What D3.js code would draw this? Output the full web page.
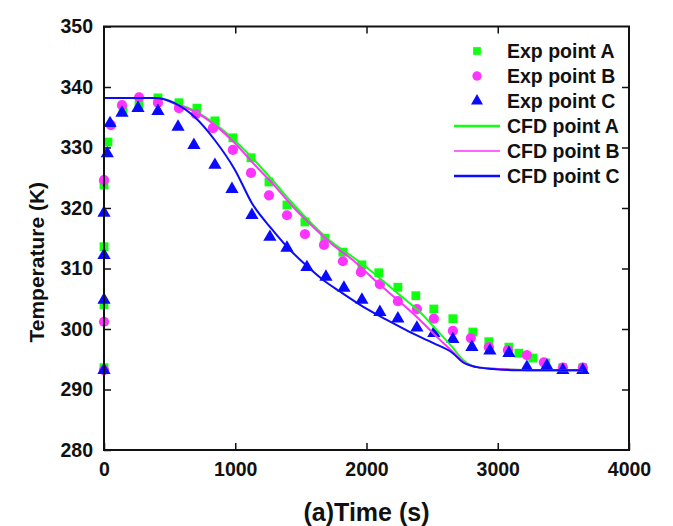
<!DOCTYPE html>
<html>
<head>
<meta charset="utf-8">
<script src="https://cdn.jsdelivr.net/npm/d3@7"></script>
<style>
  body { margin: 0; background: #fff; }
  text { font-family: "Liberation Sans", Arial, sans-serif; font-weight: bold; fill: #111; }
</style>
</head>
<body>
<div id="main"></div>
<script>
// experimental points [time (s), temperature (K)]
var expA = [[0,293.6],[0,304.0],[0,313.6],[0,323.8],[30,330.9],[145,336.2],[267,337.0],[411,338.2],[571,337.4],[708,336.5],[845,334.4],[982,331.6],[1120,328.3],[1257,324.3],[1394,320.5],[1531,317.7],[1683,315.0],[1820,312.7],[1965,310.6],[2094,309.3],[2239,306.9],[2376,305.5],[2513,303.3],[2658,301.7],[2810,299.5],[2932,297.9],[3085,297.0],[3161,296.0],[3267,295.2],[3366,294.4],[3496,293.6],[3648,293.6]];
var expB = [[0,293.2],[0,301.2],[0,324.6],[53,333.7],[137,337.0],[267,338.3],[411,337.4],[571,336.5],[701,335.5],[830,333.2],[982,329.6],[1120,325.8],[1257,322.1],[1394,318.8],[1531,315.7],[1676,313.9],[1820,311.2],[1957,309.4],[2102,307.4],[2239,304.6],[2384,303.3],[2513,301.7],[2658,299.7],[2795,298.5],[2932,297.0],[3077,296.5],[3222,295.7],[3351,294.5],[3496,293.6],[3648,293.6]];
var expC = [[0,293.2],[0,304.8],[0,312.2],[0,319.2],[25,329.0],[46,334.0],[137,335.7],[259,336.5],[411,336.0],[564,333.4],[685,330.4],[845,327.1],[975,323.1],[1127,318.8],[1264,315.2],[1394,313.4],[1546,310.2],[1691,308.6],[1828,306.8],[1965,304.8],[2102,302.8],[2239,301.7],[2384,300.2],[2513,299.3],[2658,298.3],[2803,297.0],[2940,296.4],[3085,296.0],[3222,293.7],[3374,293.9],[3496,293.2],[3648,293.2]];

// CFD curves
var cfdA = [[0,293.2],[0,338.2],[200,338.2],[411,338.2],[564,337.2],[693,336.0],[845,333.9],[998,331.1],[1150,327.8],[1287,324.5],[1439,320.7],[1592,317.2],[1744,314.2],[1896,311.9],[2102,308.4],[2254,305.6],[2407,302.8],[2536,299.8],[2658,296.9],[2734,294.9],[2841,293.7],[3016,293.4],[3267,293.2],[3648,293.2]];
var cfdB = [[0,293.2],[0,338.2],[200,338.2],[411,338.2],[564,337.0],[693,335.9],[845,333.7],[998,330.7],[1150,327.1],[1287,324.0],[1439,320.2],[1592,316.9],[1744,313.9],[1896,311.4],[2102,307.3],[2254,304.5],[2407,301.5],[2536,298.7],[2658,296.2],[2734,294.6],[2841,293.7],[3016,293.4],[3267,293.2],[3648,293.2]];
var cfdC = [[0,293.2],[0,338.2],[200,338.2],[388,338.2],[541,337.3],[693,335.0],[845,331.2],[998,326.3],[1127,320.8],[1279,316.5],[1394,313.6],[1546,310.4],[1670,308.1],[1797,306.2],[1973,303.7],[2155,301.5],[2331,299.5],[2506,297.7],[2658,296.0],[2734,294.5],[2841,293.7],[2963,293.4],[3146,293.2],[3648,293.2]];

var xTicks = [0, 1000, 2000, 3000, 4000];
var yTicks = [280, 290, 300, 310, 320, 330, 340, 350];
var legendLabels = ["Exp point A", "Exp point B", "Exp point C", "CFD point A", "CFD point B", "CFD point C"];

var width = 673;
var height = 526;
var plotL = 104, plotR = 629, plotT = 26.5, plotB = 450;

var green = "#11ff11", magenta = "#ff33ff", blue = "#0a0aff";

var svg = d3.select('#main')
  .append('svg')
  .attr('width', width)
  .attr('height', height);

var x = d3.scaleLinear().domain([0, 4000]).range([plotL, plotR]);
var y = d3.scaleLinear().domain([280, 350]).range([plotB, plotT]);

// axes, ticks pointing inward
var gx = svg.append('g')
  .attr('transform', 'translate(0,' + plotB + ')')
  .call(d3.axisBottom(x).tickValues(xTicks).tickSize(-7).tickPadding(12).tickFormat(d3.format('d')));
var gy = svg.append('g')
  .attr('transform', 'translate(' + plotL + ',0)')
  .call(d3.axisLeft(y).tickValues(yTicks).tickSize(-7).tickPadding(11).tickFormat(d3.format('d')));
var gt = svg.append('g')
  .attr('transform', 'translate(0,' + plotT + ')')
  .call(d3.axisTop(x).tickValues([1000, 2000, 3000]).tickSize(-7).tickFormat(''));
var gr = svg.append('g')
  .attr('transform', 'translate(' + plotR + ',0)')
  .call(d3.axisRight(y).tickValues(yTicks.slice(1, -1)).tickSize(-7).tickFormat(''));

[gx, gy, gt, gr].forEach(function(g) {
  g.select('.domain').remove();
  g.selectAll('line').attr('stroke', '#111').attr('stroke-width', 1.5);
  g.selectAll('text').style('font-size', '19.5px').attr('fill', '#111');
});

// CFD lines: vertical rise at t=0, then smooth decay
var line = d3.line()
  .x(function(d) { return x(d[0]); })
  .y(function(d) { return y(d[1]); })
  .curve(d3.curveMonotoneX);
var rise = d3.line()
  .x(function(d) { return x(d[0]); })
  .y(function(d) { return y(d[1]); });

// experimental points
function drawPoints(data, type, size, color) {
  svg.append('g').selectAll('path')
    .data(data)
    .enter().append('path')
    .attr('transform', function(d) { return 'translate(' + x(d[0]) + ',' + y(d[1]) + ')'; })
    .attr('d', d3.symbol().type(type).size(size))
    .attr('fill', color);
}
drawPoints(expA, d3.symbolSquare, 78, green);
drawPoints(expB, d3.symbolCircle, 82, magenta);
drawPoints(expC, d3.symbolTriangle, 76, blue);

[[cfdA, green], [cfdB, magenta], [cfdC, blue]].forEach(function(s) {
  svg.append('path')
    .attr('d', rise(s[0].slice(0, 2)))
    .attr('fill', 'none').attr('stroke', s[1]).attr('stroke-width', 2);
  svg.append('path')
    .attr('d', line(s[0].slice(1)))
    .attr('fill', 'none').attr('stroke', s[1]).attr('stroke-width', 2);
});

// frame
svg.append('rect')
  .attr('x', plotL).attr('y', plotT)
  .attr('width', plotR - plotL).attr('height', plotB - plotT)
  .attr('fill', 'none').attr('stroke', '#111').attr('stroke-width', 2);

// axis titles
svg.append('text')
  .attr('x', (plotL + plotR) / 2).attr('y', 521)
  .attr('text-anchor', 'middle')
  .style('font-size', '25px')
  .text('(a)Time (s)');
svg.append('text')
  .attr('transform', 'translate(44,' + ((plotT + plotB) / 2 + 24) + ') rotate(-90)')
  .attr('text-anchor', 'middle')
  .style('font-size', '21px')
  .text('Temperature (K)');

// legend
var legend = svg.append('g');
var rowY = function(i) { return 51 + i * 25; };
var symbols = [[d3.symbolSquare, 60, green], [d3.symbolCircle, 68, magenta], [d3.symbolTriangle, 62, blue]];
symbols.forEach(function(s, i) {
  legend.append('path')
    .attr('transform', 'translate(477,' + rowY(i) + ')')
    .attr('d', d3.symbol().type(s[0]).size(s[1]))
    .attr('fill', s[2]);
});
[[green, 2.5], [magenta, 1.3], [blue, 2.5]].forEach(function(s, i) {
  legend.append('line')
    .attr('x1', 454).attr('x2', 500)
    .attr('y1', rowY(i + 3)).attr('y2', rowY(i + 3))
    .attr('stroke', s[0]).attr('stroke-width', s[1]);
});
legend.selectAll('text')
  .data(legendLabels)
  .enter().append('text')
  .attr('x', 507)
  .attr('y', function(d, i) { return rowY(i) + 7; })
  .style('font-size', '19.5px')
  .text(function(d) { return d; });
</script>
</body>
</html>
